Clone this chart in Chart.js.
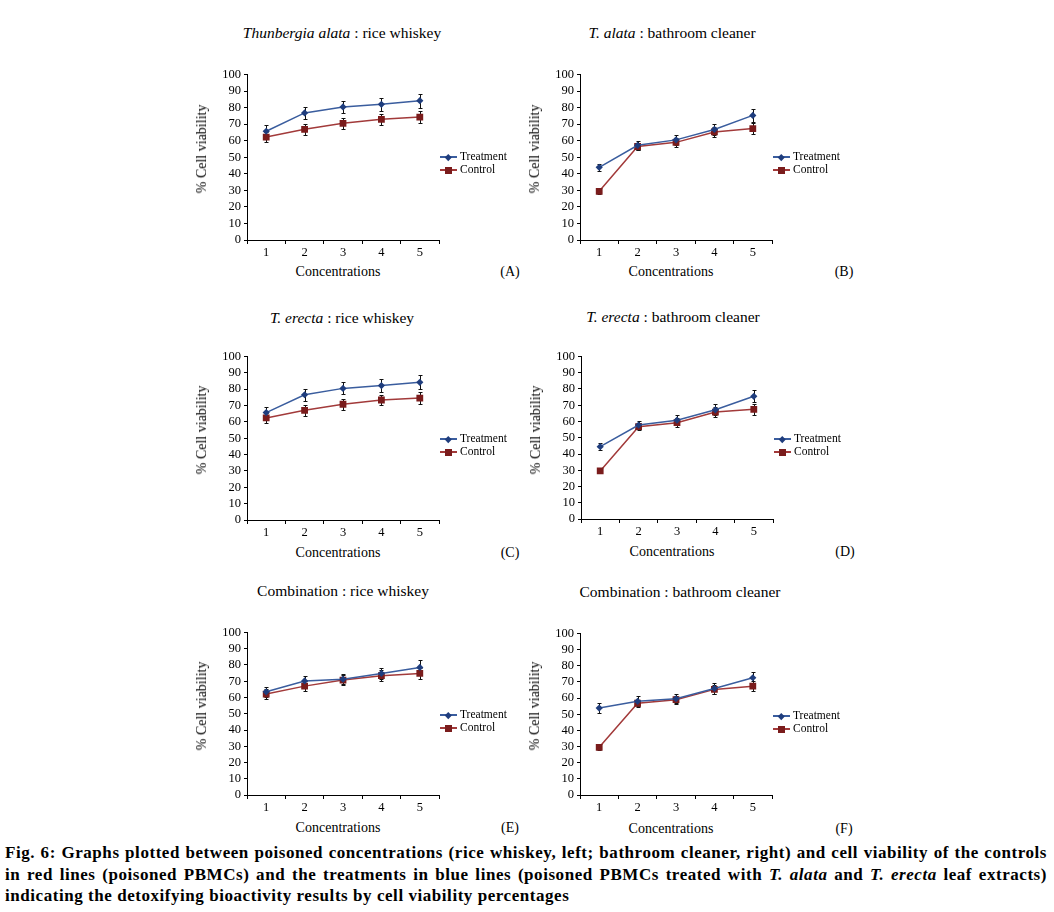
<!DOCTYPE html>
<html>
<head>
<meta charset="utf-8">
<script src="https://cdn.jsdelivr.net/npm/chart.js@4.4.0/dist/chart.umd.min.js"></script>
<style>
  body { margin: 0; background: #fff; width: 1054px; height: 912px; position: relative; overflow: hidden;
         font-family: 'Liberation Serif', 'Times New Roman', serif; color: #000; }
  canvas { position: absolute; }
  .lbl { position: absolute; white-space: nowrap; transform: translate(-50%, -50%); line-height: 1; }
  .title { font-size: 15.5px; }
  .xt { font-size: 14px; }
  .letter { font-size: 14px; }
  .yt { font-size: 14px; transform: translate(-50%, -50%) rotate(-90deg); }
  .lg { position: absolute; font-size: 11.5px; white-space: nowrap; line-height: 13px; }
  .lg .sw { display: inline-block; position: relative; width: 17px; height: 13px; vertical-align: top; margin-right: 3px; }
  .lg .sw b { position: absolute; left: 0; right: 0; top: 6px; height: 1.5px; }
  .lg .sw i { position: absolute; }
  .lg .t b { background: #3a5d9e; }
  .lg .t i { width: 4.5px; height: 4.5px; left: 6px; top: 4.5px; background: #1f3d7d; transform: rotate(45deg); }
  .lg .c b { background: #a23a3a; }
  .lg .c i { width: 7px; height: 7px; left: 5px; top: 3.5px; background: #7a1c1c; }
  .cap { position: absolute; left: 5px; width: 1042px; font-size: 17px; letter-spacing: 0.55px; font-weight: bold; white-space: nowrap; line-height: 21.5px; }
  .cap.j { text-align: justify; text-align-last: justify; }
</style>
</head>
<body>
<div class="cap j" style="top:842px">Fig. 6: Graphs plotted between poisoned concentrations (rice whiskey, left; bathroom cleaner, right) and cell viability of the controls</div>
<div class="cap j" style="top:863.5px">in red lines (poisoned PBMCs) and the treatments in blue lines (poisoned PBMCs treated with <i>T. alata</i> and <i>T. erecta</i> leaf extracts)</div>
<div class="cap" style="top:885px">indicating the detoxifying bioactivity results by cell viability percentages</div>
<script>
const categories = ['1', '2', '3', '4', '5'];

const aTreatment = [65.7, 76.8, 80.4, 82.0, 84.2];
const aTreatmentErr = [3.6, 3.6, 3.6, 3.8, 4.3];
const aControl = [62.2, 66.9, 70.5, 72.9, 74.3];
const aControlErr = [3.0, 3.3, 3.3, 3.3, 3.5];

const bTreatment = [43.9, 57.2, 60.5, 66.8, 75.3];
const bTreatmentErr = [2.0, 2.8, 3.0, 3.3, 3.8];
const bControl = [29.4, 56.5, 59.0, 65.3, 67.3];
const bControlErr = [1.5, 2.3, 2.6, 3.0, 3.5];

const cTreatment = [65.7, 76.6, 80.5, 82.2, 84.2];
const cTreatmentErr = [3.6, 3.8, 3.6, 3.8, 4.3];
const cControl = [62.4, 67.1, 70.8, 73.4, 74.6];
const cControlErr = [3.0, 3.3, 3.3, 3.3, 3.5];

const dTreatment = [44.5, 57.8, 60.8, 67.2, 75.5];
const dTreatmentErr = [2.0, 2.6, 3.0, 3.3, 3.8];
const dControl = [29.6, 56.8, 59.3, 65.8, 67.5];
const dControlErr = [1.5, 2.3, 2.6, 3.0, 3.5];

const eTreatment = [63.5, 70.2, 71.3, 74.8, 78.5];
const eTreatmentErr = [3.0, 3.3, 3.3, 3.5, 4.3];
const eControl = [62.1, 67.0, 70.7, 73.4, 74.8];
const eControlErr = [3.0, 3.3, 3.0, 3.3, 3.5];

const fTreatment = [53.8, 58.0, 59.6, 66.0, 72.6];
const fTreatmentErr = [3.0, 3.0, 2.8, 3.3, 3.3];
const fControl = [29.5, 56.8, 59.0, 65.4, 67.4];
const fControlErr = [1.5, 2.3, 2.6, 3.0, 3.3];

const titles = [
  '<i>Thunbergia alata</i> : rice whiskey',
  '<i>T. alata</i> : bathroom cleaner',
  '<i>T. erecta</i> : rice whiskey',
  '<i>T. erecta</i> : bathroom cleaner',
  'Combination : rice whiskey',
  'Combination : bathroom cleaner'
];
const letters = ['(A)', '(B)', '(C)', '(D)', '(E)', '(F)'];

// plot-area placement of each panel: left, top, right, bottom, title centre x/y
const layout = [
  { l: 247, t: 74,  r: 439, b: 240, tx: 342, ty: 33,  cy: 272 },
  { l: 580, t: 74,  r: 772, b: 240, tx: 672, ty: 33,  cy: 272 },
  { l: 247, t: 356, r: 439, b: 520, tx: 342, ty: 318, cy: 553 },
  { l: 581, t: 356, r: 773, b: 519, tx: 673, ty: 317, cy: 552 },
  { l: 247, t: 632, r: 439, b: 795, tx: 343, ty: 591, cy: 828 },
  { l: 580, t: 633, r: 772, b: 795, tx: 680, ty: 592, cy: 829 }
];

const series = [
  [aTreatment, aTreatmentErr, aControl, aControlErr],
  [bTreatment, bTreatmentErr, bControl, bControlErr],
  [cTreatment, cTreatmentErr, cControl, cControlErr],
  [dTreatment, dTreatmentErr, dControl, dControlErr],
  [eTreatment, eTreatmentErr, eControl, eControlErr],
  [fTreatment, fTreatmentErr, fControl, fControlErr]
];

const errorBars = {
  id: 'errorBars',
  beforeDatasetsDraw(chart) {
    const ctx = chart.ctx;
    const y = chart.scales.y;
    ctx.save();
    ctx.strokeStyle = '#111';
    ctx.lineWidth = 1;
    chart.data.datasets.forEach((ds, i) => {
      chart.getDatasetMeta(i).data.forEach((pt, j) => {
        const v = ds.data[j], e = ds.errors[j];
        const top = Math.round(y.getPixelForValue(v + e)) + 0.5;
        const bot = Math.round(y.getPixelForValue(v - e)) + 0.5;
        const x = Math.round(pt.x) + 0.5;
        ctx.beginPath();
        ctx.moveTo(x, top); ctx.lineTo(x, bot);
        ctx.moveTo(x - 2, top); ctx.lineTo(x + 2, top);
        ctx.moveTo(x - 2, bot); ctx.lineTo(x + 2, bot);
        ctx.stroke();
      });
    });
    ctx.restore();
  }
};

const tickFont = { family: "'Liberation Serif', 'Times New Roman', serif", size: 12.5 };

function addLabel(cls, html, x, y) {
  const d = document.createElement('div');
  d.className = 'lbl ' + cls;
  d.innerHTML = html;
  d.style.left = x + 'px';
  d.style.top = y + 'px';
  document.body.appendChild(d);
}

layout.forEach((p, k) => {
  const [tr, trErr, ct, ctErr] = series[k];
  const axisW = 40, axisH = 22, padT = 10, padR = 10;
  const canvas = document.createElement('canvas');
  canvas.width = axisW + (p.r - p.l) + padR;
  canvas.height = padT + (p.b - p.t) + axisH;
  canvas.style.left = (p.l - axisW) + 'px';
  canvas.style.top = (p.t - padT) + 'px';
  document.body.appendChild(canvas);

  new Chart(canvas.getContext('2d'), {
    type: 'line',
    data: {
      labels: categories,
      datasets: [
        {
          label: 'Treatment', data: tr, errors: trErr,
          borderColor: '#3a5d9e', borderWidth: 1.5,
          pointStyle: 'rectRot', pointRadius: 3.6,
          pointBackgroundColor: '#1f3d7d', pointBorderColor: '#1f3d7d', pointBorderWidth: 0
        },
        {
          label: 'Control', data: ct, errors: ctErr,
          borderColor: '#a23a3a', borderWidth: 1.5,
          pointStyle: 'rect', pointRadius: 4.8,
          pointBackgroundColor: '#7a1c1c', pointBorderColor: '#7a1c1c', pointBorderWidth: 0
        }
      ]
    },
    options: {
      responsive: false,
      animation: false,
      devicePixelRatio: 1,
      layout: { padding: { top: padT, right: padR, left: 0, bottom: 0 } },
      plugins: { legend: { display: false }, title: { display: false }, tooltip: { enabled: false } },
      elements: { line: { tension: 0 } },
      scales: {
        x: {
          type: 'category', offset: true,
          grid: { offset: true, drawOnChartArea: false, drawTicks: true, tickLength: 4, color: '#000' },
          border: { color: '#000', width: 1 },
          ticks: { color: '#000', font: tickFont, padding: 1, maxRotation: 0, autoSkip: false },
          afterFit(s) { s.height = axisH; }
        },
        y: {
          min: 0, max: 100,
          grid: { drawOnChartArea: false, drawTicks: true, tickLength: 3, color: '#000' },
          border: { color: '#000', width: 1 },
          ticks: { stepSize: 10, color: '#000', font: tickFont, padding: 3, autoSkip: false },
          afterFit(s) { s.width = axisW; }
        }
      }
    },
    plugins: [errorBars]
  });

  const midX = (p.l + p.r) / 2;
  addLabel('title', titles[k], p.tx, p.ty);
  addLabel('xt', 'Concentrations', midX - 5, p.cy);
  addLabel('letter', letters[k], p.l + (k % 2 ? 264 : 263), p.cy);
  addLabel('yt', '% Cell viability', p.l - 45, (p.t + p.b) / 2 - 8);

  const lg = document.createElement('div');
  lg.className = 'lg';
  lg.style.left = (p.r + 1) + 'px';
  lg.style.top = (p.t + 76) + 'px';
  lg.innerHTML = '<div><span class="sw t"><b></b><i></i></span>Treatment</div>' +
                 '<div><span class="sw c"><b></b><i></i></span>Control</div>';
  document.body.appendChild(lg);
});
</script>
</body>
</html>
